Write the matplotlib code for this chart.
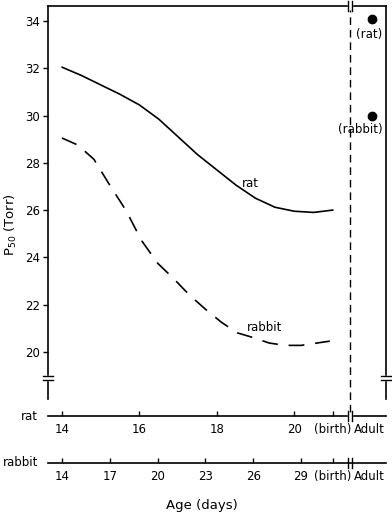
import matplotlib
matplotlib.use("Agg")
import matplotlib.pyplot as plt

# --- datos ---
# curva rata (edad en dias, escala rata)
rat_age = [14, 14.5, 15, 15.5, 16, 16.5, 17, 17.5, 18, 18.5, 19, 19.5, 20, 20.5, 21]
rat_p50 = [32.05, 31.7, 31.3, 30.9, 30.45, 29.85, 29.1, 28.35, 27.7, 27.05, 26.5, 26.12, 25.95, 25.9, 26.0]

# curva conejo (edad en dias, escala conejo)
rabbit_age = [14, 15, 16, 17, 18, 19, 20, 21, 22, 23, 24, 25, 26, 27, 28, 29, 30, 30.8]
rabbit_p50 = [29.05, 28.75, 28.15, 27.05, 26.0, 24.7, 23.75, 23.1, 22.4, 21.8, 21.25, 20.8, 20.6, 20.37, 20.27, 20.27, 20.37, 20.45]

# valores adultos
adult_rat = 34.1
adult_rabbit = 30.0

rat_ticks = [14, 16, 18, 20, 21]
rat_ticklabels = ["14", "16", "18", "20", "(birth)"]
rabbit_ticks = [14, 17, 20, 23, 26, 29, 31]
rabbit_ticklabels = ["14", "17", "20", "23", "26", "29", "(birth)"]
y_ticks = [20, 22, 24, 26, 28, 30, 32, 34]

RAT_BIRTH, RABBIT_BIRTH = 21, 31
BREAK_X = 21.44   # posicion del corte (escala rata)
ADULT_X = 21.95   # posicion "Adult" (escala rata)


def rat_to_rabbit(d):
    return 14 + (d - 14) * (RABBIT_BIRTH - 14) / (RAT_BIRTH - 14)


plt.rcParams["font.family"] = "DejaVu Sans"
plt.rcParams["font.size"] = 8.5

W, H = 392, 513
fig = plt.figure(figsize=(W / 100, H / 100), dpi=100)
AX_L, AX_R, AX_T, AX_B = 48, 386, 6, 399
ax_w, ax_h = AX_R - AX_L, AX_B - AX_T
ax = fig.add_axes([AX_L / W, 1 - AX_B / H, ax_w / W, ax_h / H])

px_per_day = 38.71
xlim = (14 - (62 - AX_L) / px_per_day, 14 + (AX_R - 62) / px_per_day)
ax.set_xlim(*xlim)
ax.set_ylim(18, 34.64)

lw = 1.2
ax.plot(rat_age, rat_p50, color="black", lw=lw, solid_capstyle="round")

# eje conejo (gemelo)
ax2 = ax.twiny()
ax2.set_xlim(rat_to_rabbit(xlim[0]), rat_to_rabbit(xlim[1]))
ax2.plot(rabbit_age, rabbit_p50, color="black", lw=lw, dashes=(9.5, 6.5))

# puntos adultos
ax.plot([ADULT_X + 0.05], [adult_rat], "o", color="black", ms=6)
ax.plot([ADULT_X + 0.05], [adult_rabbit], "o", color="black", ms=6)
ax.annotate("(rat)", (ADULT_X + 0.05, adult_rat), xytext=(-2, -11),
            textcoords="offset points", ha="center", va="center")
ax.annotate("(rabbit)", (ADULT_X + 0.05, adult_rabbit), xytext=(-8, -10),
            textcoords="offset points", ha="center", va="center")

# etiquetas de curva
ax.text(18.86, 27.14, "rat", ha="center", va="center")
ax.text(19.22, 21.03, "rabbit", ha="center", va="center")

# linea de corte vertical
ax.axvline(BREAK_X, ymin=-13 / ax_h, ymax=0.99, color="black", lw=1.0,
           dashes=(5.5, 3.5), clip_on=False)

# spines
for s in ["left", "right", "top"]:
    ax.spines[s].set_linewidth(lw)
ax.spines["bottom"].set_position(("outward", 17 * 0.72))
ax.spines["bottom"].set_linewidth(lw)
for s in ["left", "right", "top"]:
    ax2.spines[s].set_visible(False)
ax2.xaxis.set_ticks_position("bottom")
ax2.spines["bottom"].set_position(("outward", 64 * 0.72))
ax2.spines["bottom"].set_linewidth(lw)

ax.set_yticks(y_ticks)
ax.tick_params(axis="y", direction="out", length=3.6, width=1, pad=2, right=False)
ax.set_xticks(rat_ticks, labels=rat_ticklabels)
ax.set_xticks([ADULT_X], labels=["Adult"], minor=True)
ax.tick_params(axis="x", which="major", direction="in", length=3.6, width=1, pad=5, top=False)
ax.tick_params(axis="x", which="minor", length=0, pad=5, top=False)

ax2.set_xticks(rabbit_ticks, labels=rabbit_ticklabels)
ax2.set_xticks([rat_to_rabbit(ADULT_X)], labels=["Adult"], minor=True)
ax2.tick_params(axis="x", which="major", direction="in", length=3.6, width=1, pad=5, top=False)
ax2.tick_params(axis="x", which="minor", length=0, pad=5, top=False)

# marcas de corte
fx = lambda px: px / ax_w
fy = lambda py: (AX_B - py) / ax_h
bx = (BREAK_X - xlim[0]) / (xlim[1] - xlim[0])
kw = dict(transform=ax.transAxes, clip_on=False, color="black", lw=1.0)
wkw = dict(transform=ax.transAxes, clip_on=False, color="white", lw=2.5, zorder=4)
for x0 in [0.0, 1.0]:
    ax.plot([x0, x0], [fy(376.5), fy(379)], **wkw)
    for py in [375.5, 380]:
        ax.plot([x0 - fx(5), x0 + fx(5)], [fy(py), fy(py)], zorder=5, **kw)
for py in [AX_T, 416, 463]:
    ax.plot([bx - fx(1), bx + fx(1)], [fy(py), fy(py)], **wkw)
    for dx in [-2, 2]:
        ax.plot([bx + fx(dx), bx + fx(dx)], [fy(py - 5), fy(py + 5)], zorder=5, **kw)

# textos del eje
fig.text(38 / W, 1 - 416 / H, "rat", ha="right", va="center")
fig.text(38 / W, 1 - 463 / H, "rabbit", ha="right", va="center")
fig.text(202 / W, 1 - 505 / H, "Age (days)", ha="center", va="center", fontsize=9.5)
fig.text(11 / W, 1 - 225 / H, "P$_{50}$ (Torr)", ha="center", va="center",
         rotation=90, fontsize=9.5)

fig.savefig("out.png", dpi=100)
